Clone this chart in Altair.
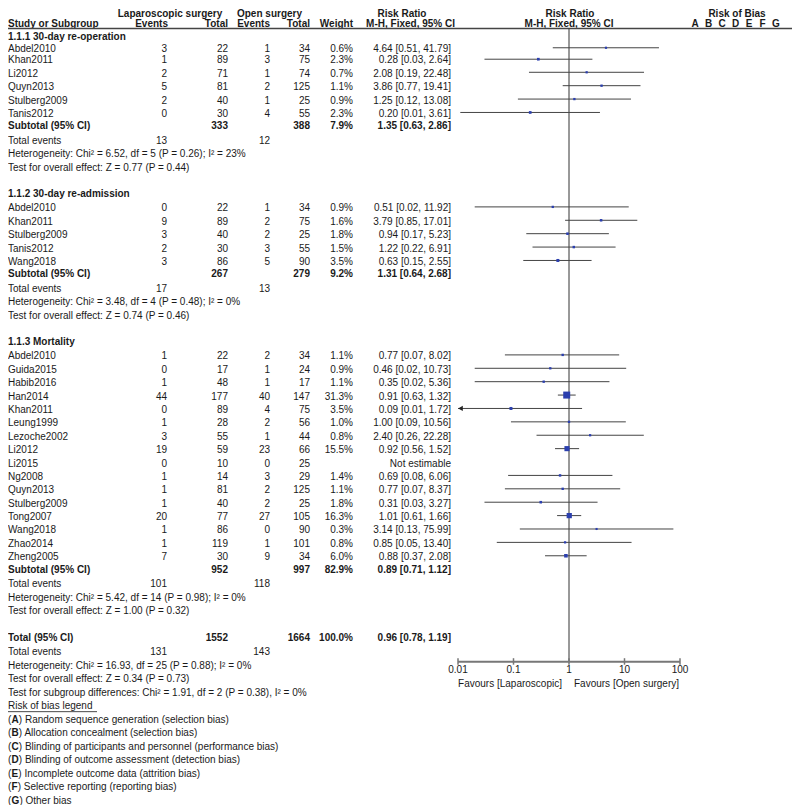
import altair as alt
import pandas as pd

FONT = "Liberation Sans"
TXT = "#1a1a1a"

# ------------------------------------------------------------------ data
group_titles = ["1.1.1 30-day re-operation", "1.1.2 30-day re-admission", "1.1.3 Mortality"]

g1_study = ["Abdel2010", "Khan2011", "Li2012", "Quyn2013", "Stulberg2009", "Tanis2012"]
g1_lap_ev = [3, 1, 2, 5, 2, 0]
g1_lap_tot = [22, 89, 71, 81, 40, 30]
g1_open_ev = [1, 3, 1, 2, 1, 4]
g1_open_tot = [34, 75, 74, 125, 25, 55]
g1_weight = [0.6, 2.3, 0.7, 1.1, 0.9, 2.3]
g1_rr = [4.64, 0.28, 2.08, 3.86, 1.25, 0.20]
g1_lo = [0.51, 0.03, 0.19, 0.77, 0.12, 0.011]
g1_hi = [41.79, 2.64, 22.48, 19.41, 13.08, 3.61]

g2_study = ["Abdel2010", "Khan2011", "Stulberg2009", "Tanis2012", "Wang2018"]
g2_lap_ev = [0, 9, 3, 2, 3]
g2_lap_tot = [22, 89, 40, 30, 86]
g2_open_ev = [1, 2, 2, 3, 5]
g2_open_tot = [34, 75, 25, 55, 90]
g2_weight = [0.9, 1.6, 1.8, 1.5, 3.5]
g2_rr = [0.51, 3.79, 0.94, 1.22, 0.63]
g2_lo = [0.02, 0.85, 0.17, 0.22, 0.15]
g2_hi = [11.92, 17.01, 5.23, 6.91, 2.55]

g3_study = ["Abdel2010", "Guida2015", "Habib2016", "Han2014", "Khan2011", "Leung1999",
            "Lezoche2002", "Li2012", "Li2015", "Ng2008", "Quyn2013", "Stulberg2009",
            "Tong2007", "Wang2018", "Zhao2014", "Zheng2005"]
g3_lap_ev = [1, 0, 1, 44, 0, 1, 3, 19, 0, 1, 1, 1, 20, 1, 1, 7]
g3_lap_tot = [22, 17, 48, 177, 89, 28, 55, 59, 10, 14, 81, 40, 77, 86, 119, 30]
g3_open_ev = [2, 1, 1, 40, 4, 2, 1, 23, 0, 3, 2, 2, 27, 0, 1, 9]
g3_open_tot = [34, 24, 17, 147, 75, 56, 44, 66, 25, 29, 125, 25, 105, 90, 101, 34]
g3_weight = [1.1, 0.9, 1.1, 31.3, 3.5, 1.0, 0.8, 15.5, None, 1.4, 1.1, 1.8, 16.3, 0.3, 0.8, 6.0]
g3_rr = [0.77, 0.46, 0.35, 0.91, 0.09, 1.00, 2.40, 0.92, None, 0.69, 0.77, 0.31, 1.01, 3.14, 0.85, 0.88]
g3_lo = [0.07, 0.02, 0.02, 0.63, 0.0052, 0.09, 0.26, 0.56, None, 0.08, 0.07, 0.03, 0.61, 0.13, 0.05, 0.37]
g3_hi = [8.02, 10.73, 5.36, 1.32, 1.72, 10.56, 22.28, 1.52, None, 6.06, 8.37, 3.27, 1.66, 75.99, 13.40, 2.08]

sub_lap_tot = [333, 267, 952]
sub_open_tot = [388, 279, 997]
sub_weight = [7.9, 9.2, 82.9]
sub_rr = [1.35, 1.31, 0.89]
sub_lo = [0.63, 0.64, 0.71]
sub_hi = [2.86, 2.68, 1.12]
sub_lap_events = [13, 17, 101]
sub_open_events = [12, 13, 118]
sub_het = ["Heterogeneity: Chi² = 6.52, df = 5 (P = 0.26); I² = 23%",
           "Heterogeneity: Chi² = 3.48, df = 4 (P = 0.48); I² = 0%",
           "Heterogeneity: Chi² = 5.42, df = 14 (P = 0.98); I² = 0%"]
sub_z = ["Test for overall effect: Z = 0.77 (P = 0.44)",
         "Test for overall effect: Z = 0.74 (P = 0.46)",
         "Test for overall effect: Z = 1.00 (P = 0.32)"]

tot_lap_tot = 1552
tot_open_tot = 1664
tot_weight = 100.0
tot_rr, tot_lo, tot_hi = 0.96, 0.78, 1.19
tot_lap_events = 131
tot_open_events = 143
tot_het = "Heterogeneity: Chi² = 16.93, df = 25 (P = 0.88); I² = 0%"
tot_z = "Test for overall effect: Z = 0.34 (P = 0.73)"
tot_subgroup = "Test for subgroup differences: Chi² = 1.91, df = 2 (P = 0.38), I² = 0%"

axis_ticks = [0.01, 0.1, 1, 10, 100]
axis_labels = ["0.01", "0.1", "1", "10", "100"]
favours_left = "Favours [Laparoscopic]"
favours_right = "Favours [Open surgery]"

bias_letters = ["A", "B", "C", "D", "E", "F", "G"]
bias_texts = ["Random sequence generation (selection bias)",
              "Allocation concealment (selection bias)",
              "Blinding of participants and personnel (performance bias)",
              "Blinding of outcome assessment (detection bias)",
              "Incomplete outcome data (attrition bias)",
              "Selective reporting (reporting bias)",
              "Other bias"]

groups = [
    (g1_study, g1_lap_ev, g1_lap_tot, g1_open_ev, g1_open_tot, g1_weight, g1_rr, g1_lo, g1_hi),
    (g2_study, g2_lap_ev, g2_lap_tot, g2_open_ev, g2_open_tot, g2_weight, g2_rr, g2_lo, g2_hi),
    (g3_study, g3_lap_ev, g3_lap_tot, g3_open_ev, g3_open_tot, g3_weight, g3_rr, g3_lo, g3_hi),
]

# ------------------------------------------------------------------ layout
W, H = 784, 797
COL_NAME, COL_LEV, COL_LTOT, COL_OEV, COL_OTOT, COL_W, COL_RR = 0, 159, 220, 262, 302, 345, 443

cells = []


def cell(y, x, text, align="left", bold=False):
    cells.append(dict(ypos=y, x=x, text=str(text), align=align, bold=int(bold)))


def rr_text(rr, lo, hi):
    return f"{rr:.2f} [{lo:.2f}, {hi:.2f}]"


# header
cell(5, 162, "Laparoscopic surgery", "center", True)
cell(5, 261.5, "Open surgery", "center", True)
cell(5, 394, "Risk Ratio", "center", True)
cell(5, 562, "Risk Ratio", "center", True)
cell(5, 729, "Risk of Bias", "center", True)
cell(17, COL_NAME, "Study or Subgroup", "left", True)
cell(17, COL_LEV + 1, "Events", "right", True)
cell(17, COL_LTOT, "Total", "right", True)
cell(17, COL_OEV, "Events", "right", True)
cell(17, COL_OTOT, "Total", "right", True)
cell(17, COL_W, "Weight", "right", True)
cell(17, COL_RR + 4, "M-H, Fixed, 95% CI", "right", True)
cell(17, 561, "M-H, Fixed, 95% CI", "center", True)
for i, L in enumerate(bias_letters):
    cell(17, 687 + i * 13.5, L, "center", True)

forest = []
diamonds = []
rules = [dict(ypos=22, kind="hline")]

y = 32
for gi, g in enumerate(groups):
    study, lev, ltot, oev, otot, wt, rr, lo, hi = g
    cell(y, COL_NAME, group_titles[gi], "left", True)
    y += 14
    for i in range(len(study)):
        cell(y, COL_NAME, study[i])
        cell(y, COL_LEV, lev[i], "right")
        cell(y, COL_LTOT, ltot[i], "right")
        cell(y, COL_OEV, oev[i], "right")
        cell(y, COL_OTOT, otot[i], "right")
        if rr[i] is None:
            cell(y, COL_RR, "Not estimable", "right")
        else:
            cell(y, COL_W, f"{wt[i]:.1f}%", "right")
            cell(y, COL_RR, rr_text(rr[i], lo[i], hi[i]), "right")
            forest.append(dict(ypos=y - 1.5, rr=rr[i], lo=lo[i], hi=hi[i], w=wt[i]))
        y += 13.4
    y += 12.5 - 13.4
    cell(y, COL_NAME, "Subtotal (95% CI)", "left", True)
    cell(y, COL_LTOT, sub_lap_tot[gi], "right", True)
    cell(y, COL_OTOT, sub_open_tot[gi], "right", True)
    cell(y, COL_W, f"{sub_weight[gi]:.1f}%", "right", True)
    cell(y, COL_RR, rr_text(sub_rr[gi], sub_lo[gi], sub_hi[gi]), "right", True)
    diamonds.append((gi, y - 1, sub_rr[gi], sub_lo[gi], sub_hi[gi]))
    y += 14.5
    cell(y, COL_NAME, "Total events")
    cell(y, COL_LEV, sub_lap_events[gi], "right")
    cell(y, COL_OEV, sub_open_events[gi], "right")
    y += 13.5
    cell(y, COL_NAME, sub_het[gi])
    y += 13.5
    cell(y, COL_NAME, sub_z[gi])
    y += 26.5

cell(y, COL_NAME, "Total (95% CI)", "left", True)
cell(y, COL_LTOT, tot_lap_tot, "right", True)
cell(y, COL_OTOT, tot_open_tot, "right", True)
cell(y, COL_W, f"{tot_weight:.1f}%", "right", True)
cell(y, COL_RR, rr_text(tot_rr, tot_lo, tot_hi), "right", True)
diamonds.append((3, y - 1, tot_rr, tot_lo, tot_hi))
y_total = y
y += 14.5
cell(y, COL_NAME, "Total events")
cell(y, COL_LEV, tot_lap_events, "right")
cell(y, COL_OEV, tot_open_events, "right")
y += 13.5
cell(y, COL_NAME, tot_het)
y += 13.5
cell(y, COL_NAME, tot_z)
y += 13.5
cell(y, COL_NAME, tot_subgroup)
y += 13.5
cell(y, COL_NAME, "Risk of bias legend ")
underline = pd.DataFrame([dict(ypos=y + 5.5)])
BOLD_W = {"A": 7.22, "B": 7.22, "C": 7.22, "D": 7.22, "E": 6.67, "F": 6.11, "G": 7.78}
for L, t in zip(bias_letters, bias_texts):
    y += 13.5
    cell(y, 0, "(")
    cell(y, 3.4, L, "left", True)
    cell(y, 3.6 + BOLD_W[L], ") " + t)

AXIS_Y = y_total + 24
cells_df = pd.DataFrame(cells)
forest_df = pd.DataFrame(forest)

dia_rows = []
HALF = 6
for gid, yc, r, l, h in diamonds:
    dia_rows.append(dict(g=gid, k=0, x=l, y1=yc, y2=yc))
    dia_rows.append(dict(g=gid, k=1, x=r, y1=yc - HALF, y2=yc + HALF))
    dia_rows.append(dict(g=gid, k=2, x=h, y1=yc, y2=yc))
dia_df = pd.DataFrame(dia_rows)

# piecewise vertical scale: header squeezed slightly (page margin), rest ~1:1
ysc = alt.Scale(domain=[0, 60, 805], range=[1.8, 53, 797.5])
xsc = alt.Scale(type="log", domain=[0.01, 100], range=[450, 672], clamp=True)
Y = alt.Y("ypos:Q", scale=ysc, axis=None)

layers = []
for align in ["left", "right", "center"]:
    for bold in [0, 1]:
        layers.append(
            alt.Chart(cells_df)
            .transform_filter(f"datum.align == '{align}' && datum.bold == {bold}")
            .mark_text(align=align, baseline="middle", font=FONT, fontSize=10,
                       fontWeight="bold" if bold else "normal", color=TXT)
            .encode(x=alt.X("x:Q", scale=None), y=Y, text="text:N")
        )

# header line and underline
layers.append(
    alt.Chart(pd.DataFrame(rules)).mark_rule(color="#444", strokeWidth=1.5)
    .encode(x=alt.value(0), x2=alt.value(W), y=Y)
)
layers.append(
    alt.Chart(underline).mark_rule(color=TXT, strokeWidth=0.8)
    .encode(x=alt.value(0), x2=alt.value(89), y=Y)
)

# line of no effect
layers.append(
    alt.Chart(pd.DataFrame([dict(x=1, y1=22, y2=AXIS_Y)])).mark_rule(color="#333", strokeWidth=1)
    .encode(x=alt.X("x:Q", scale=xsc, axis=None), y=alt.Y("y1:Q", scale=ysc, axis=None), y2="y2:Q")
)

# CI lines
layers.append(
    alt.Chart(forest_df).mark_rule(color="#444", strokeWidth=1)
    .encode(x=alt.X("lo:Q", scale=xsc, axis=None), x2="hi:Q", y=Y)
)
# arrows for CIs beyond the axis
layers.append(
    alt.Chart(forest_df).transform_filter("datum.lo < 0.01")
    .mark_point(shape="triangle-left", filled=True, size=28, color="#222", opacity=1, xOffset=2.5)
    .encode(x=alt.X("lo:Q", scale=xsc, axis=None), y=Y)
)
# study squares
layers.append(
    alt.Chart(forest_df).mark_square(filled=True, color="#2b3fae", opacity=1)
    .encode(x=alt.X("rr:Q", scale=xsc, axis=None), y=Y,
            size=alt.Size("w:Q", scale=alt.Scale(domain=[0, 31.3], range=[4, 49]), legend=None))
)
# diamonds
layers.append(
    alt.Chart(dia_df).mark_area(orient="vertical", color="black", opacity=1)
    .encode(x=alt.X("x:Q", scale=xsc, axis=None), y=alt.Y("y1:Q", scale=ysc, axis=None),
            y2="y2:Q", detail="g:N", order="k:Q")
)

# axis
axis_df = pd.DataFrame(dict(t=axis_ticks, lab=axis_labels))
layers.append(
    alt.Chart(pd.DataFrame([dict(lo=axis_ticks[0], hi=axis_ticks[-1], ypos=AXIS_Y)]))
    .mark_rule(color="#777", strokeWidth=2)
    .encode(x=alt.X("lo:Q", scale=xsc, axis=None), x2="hi:Q", y=Y)
)
layers.append(
    alt.Chart(axis_df).transform_calculate(y1=f"{AXIS_Y - 3.5}", y2=f"{AXIS_Y + 3}")
    .mark_rule(color="#777", strokeWidth=1.5)
    .encode(x=alt.X("t:Q", scale=xsc, axis=None), y=alt.Y("y1:Q", scale=ysc, axis=None), y2="y2:Q")
)
layers.append(
    alt.Chart(axis_df).transform_calculate(ypos=f"{AXIS_Y + 8.5}")
    .mark_text(align="center", baseline="middle", font=FONT, fontSize=10, color=TXT)
    .encode(x=alt.X("t:Q", scale=xsc, axis=None), y=Y, text="lab:N")
)
fav_df = pd.DataFrame([dict(x=1, ypos=AXIS_Y + 22.5, left=favours_left, right=favours_right)])
layers.append(
    alt.Chart(fav_df).mark_text(align="right", baseline="middle", font=FONT, fontSize=10, color=TXT, dx=-7)
    .encode(x=alt.X("x:Q", scale=xsc, axis=None), y=Y, text="left:N")
)
layers.append(
    alt.Chart(fav_df).mark_text(align="left", baseline="middle", font=FONT, fontSize=10, color=TXT, dx=5)
    .encode(x=alt.X("x:Q", scale=xsc, axis=None), y=Y, text="right:N")
)

chart = (
    alt.layer(*layers)
    .properties(width=W, height=H, padding=0, autosize=alt.AutoSizeParams(type="none"),
                background="white")
    .configure_view(stroke=None)
)

chart.save("out.html", embed_options={"renderer": "svg", "actions": False})
